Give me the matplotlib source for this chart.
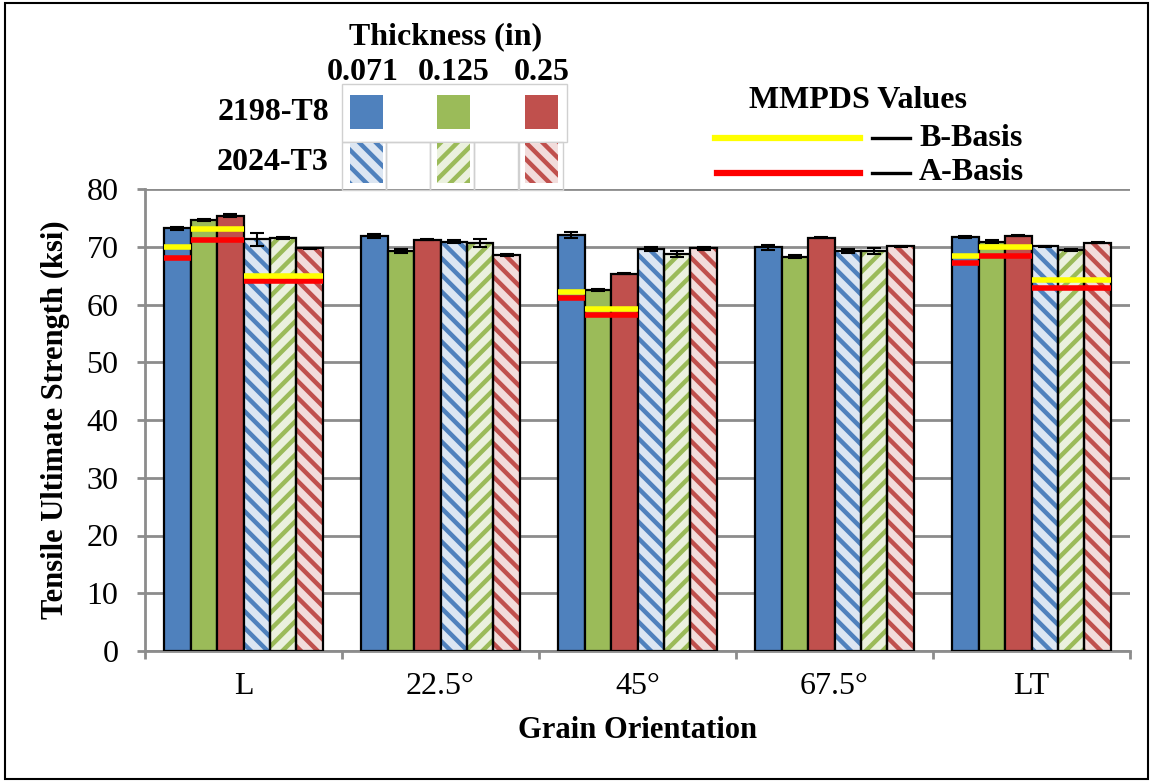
import numpy as np
import matplotlib.pyplot as plt
from matplotlib.patches import Rectangle
from matplotlib.lines import Line2D

plt.rcParams['font.family'] = ['Liberation Serif', 'DejaVu Serif']
plt.rcParams['hatch.linewidth'] = 3.2

# Grain orientations and thicknesses
orientations = ['L', '22.5°', '45°', '67.5°', 'LT']
thickness = ['0.071', '0.125', '0.25']

# Tensile ultimate strength (ksi), mean and scatter
al2198_071 = [73.2, 71.9, 72.0, 69.9, 71.7]
al2198_071_err = [0.3, 0.3, 0.5, 0.4, 0.2]
al2198_125 = [74.6, 69.3, 62.5, 68.3, 70.9]
al2198_125_err = [0.2, 0.3, 0.2, 0.2, 0.2]
al2198_250 = [75.4, 71.2, 65.3, 71.6, 71.9]
al2198_250_err = [0.2, 0.1, 0.1, 0.1, 0.1]
al2024_071 = [71.3, 70.9, 69.6, 69.3, 70.1]
al2024_071_err = [1.1, 0.2, 0.4, 0.3, 0.1]
al2024_125 = [71.5, 70.6, 68.7, 69.3, 69.4]
al2024_125_err = [0.2, 0.7, 0.5, 0.5, 0.2]
al2024_250 = [69.7, 68.6, 69.7, 70.1, 70.7]
al2024_250_err = [0.1, 0.2, 0.3, 0.1, 0.1]

# MMPDS design values (ksi), nan where none is given
nan = np.nan
b_2198_071 = [69.9, nan, 62.1, nan, 68.4]
a_2198_071 = [68.1, nan, 61.1, nan, 67.1]
b_2198_thick = [73.0, nan, 59.2, nan, 69.9]
a_2198_thick = [71.2, nan, 58.2, nan, 68.4]
b_2024 = [65.0, nan, nan, nan, 64.2]
a_2024 = [64.1, nan, nan, nan, 62.9]

blue, green, red = '#4f81bd', '#9bbb59', '#c0504d'
light = {blue: '#dce6f2', green: '#ebf1de', red: '#f2dcdb'}

series = [
    (al2198_071, al2198_071_err, blue, None),
    (al2198_125, al2198_125_err, green, None),
    (al2198_250, al2198_250_err, red, None),
    (al2024_071, al2024_071_err, blue, '\\\\'),
    (al2024_125, al2024_125_err, green, '//'),
    (al2024_250, al2024_250_err, red, '\\\\'),
]

W, H = 1154, 782
fig = plt.figure(figsize=(W / 100, H / 100), dpi=100)
ax = fig.add_axes([145 / W, 1 - 651 / H, (1130 - 145) / W, (651 - 189) / H])

x = np.arange(len(orientations))
w = 0.1345
for k, (vals, errs, col, hatch) in enumerate(series):
    pos = x + (k - 2.5) * w
    if hatch is None:
        ax.bar(pos, vals, w, color=col, edgecolor='black', linewidth=1.6, zorder=3)
    else:
        ax.bar(pos, vals, w, color=light[col], edgecolor=col, hatch=hatch,
               linewidth=0, zorder=3)
        ax.bar(pos, vals, w, fill=False, edgecolor='black', linewidth=1.6, zorder=4)
    ax.errorbar(pos, vals, yerr=errs, fmt='none', ecolor='black',
                elinewidth=1.5, capsize=5, capthick=1.5, zorder=5)

# MMPDS lines span the bars they apply to
mmpds = [
    (b_2198_071, a_2198_071, 0, 0),
    (b_2198_thick, a_2198_thick, 1, 2),
    (b_2024, a_2024, 3, 5),
]
for b_vals, a_vals, first, last in mmpds:
    for i in range(len(orientations)):
        x0 = i + (first - 2.5) * w - w / 2
        x1 = i + (last - 2.5) * w + w / 2
        if not np.isnan(a_vals[i]):
            ax.hlines(a_vals[i], x0, x1, colors='#ff0000', lw=4, zorder=6)
        if not np.isnan(b_vals[i]):
            ax.hlines(b_vals[i], x0, x1, colors='#ffff00', lw=4, zorder=6)

gray = '#8c8c8c'
ax.set_ylim(0, 80)
ax.set_xlim(-0.5, len(orientations) - 0.5)
ax.set_yticks(np.arange(0, 81, 10))
ax.yaxis.grid(True, color=gray, lw=2)
ax.set_axisbelow(True)
for s in ['top', 'right']:
    ax.spines[s].set_visible(False)
for s in ['left', 'bottom']:
    ax.spines[s].set_color(gray)
    ax.spines[s].set_linewidth(2)

ax.set_xticks(x)
ax.set_xticklabels(orientations)
ax.set_xticks(np.arange(-0.5, len(orientations), 1), minor=True)
ax.tick_params(axis='x', which='major', length=0, pad=15, labelsize=23)
ax.tick_params(axis='x', which='minor', length=6, width=2, color=gray)
ax.tick_params(axis='y', length=6, width=2, color=gray, pad=13, labelsize=23)

ax.set_ylabel('Tensile Ultimate Strength (ksi)', fontsize=22, fontweight='bold', va='center')
ax.yaxis.set_label_coords((55 - 145) / 985, 0.5)
ax.set_xlabel('Grain Orientation', fontsize=22, fontweight='bold', va='center')
ax.xaxis.set_label_coords(0.5, (651 - 731) / 462)


def fx(px):
    return px / W


def fy(py):
    return 1 - py / H


# Thickness / alloy legend
fs = 23
fig.text(fx(446), fy(37), 'Thickness (in)', fontsize=fs, fontweight='bold',
         ha='center', va='center')
for lab, cx in zip(thickness, [363, 454, 542]):
    fig.text(fx(cx), fy(72), lab, fontsize=fs, fontweight='bold', ha='center', va='center')
fig.text(fx(329), fy(113), '2198-T8', fontsize=fs, fontweight='bold', ha='right', va='center')
fig.text(fx(329), fy(163), '2024-T3', fontsize=fs, fontweight='bold', ha='right', va='center')

frame = '#d0d0d0'
fig.add_artist(Rectangle((fx(342), fy(142)), fx(567 - 342), (142 - 84) / H, fill=False,
                         edgecolor=frame, lw=1, transform=fig.transFigure))
for bx in [342, 386, 430, 474, 519]:
    fig.add_artist(Rectangle((fx(bx), fy(190)), fx(44), 48 / H, fill=False,
                             edgecolor=frame, lw=1, transform=fig.transFigure))

for col, lx, hatch in zip([blue, green, red], [350, 437, 525], ['\\\\', '//', '\\\\']):
    fig.add_artist(Rectangle((fx(lx), fy(129)), fx(33), 34 / H, facecolor=col,
                             edgecolor='none', transform=fig.transFigure))
    fig.add_artist(Rectangle((fx(lx), fy(183)), fx(33), 40 / H, facecolor=light[col],
                             edgecolor=col, hatch=hatch, lw=0, transform=fig.transFigure))

# MMPDS legend
fig.text(fx(858), fy(100), 'MMPDS Values', fontsize=fs, fontweight='bold',
         ha='center', va='center')
fig.add_artist(Line2D([fx(715), fx(860)], [fy(138), fy(138)], color='#ffff00', lw=4.5))
fig.add_artist(Line2D([fx(717), fx(860)], [fy(173), fy(173)], color='#ff0000', lw=4.5))
for lab, py in [('B-Basis', 138), ('A-Basis', 173)]:
    fig.add_artist(Line2D([fx(872), fx(910)], [fy(py), fy(py)], color='black', lw=2.4))
    fig.text(fx(919), fy(py), lab, fontsize=fs, fontweight='bold', ha='left', va='center')

# Outer border
fig.add_artist(Rectangle((0.004, 0.004), 0.991, 0.992, fill=False, edgecolor='black',
                         lw=1.5, transform=fig.transFigure))

fig.savefig('out.png', dpi=100)
